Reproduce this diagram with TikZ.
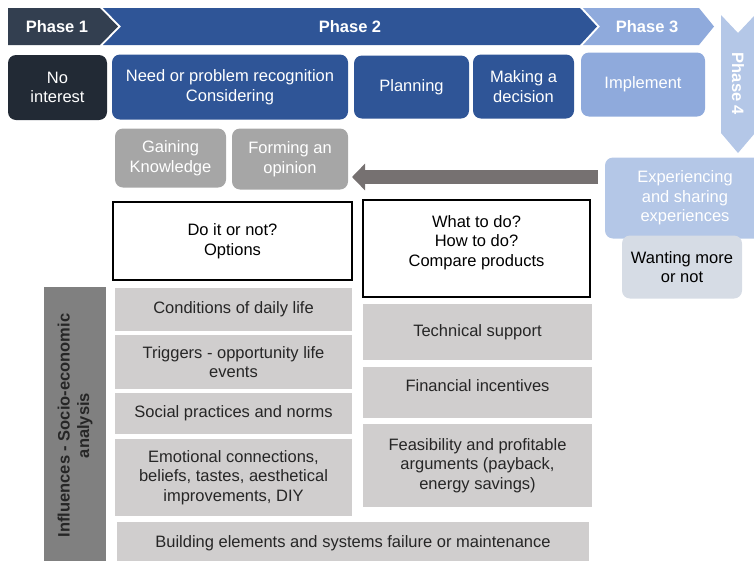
\documentclass[tikz,border=0pt]{standalone}
\usepackage{fontspec}
\setmainfont{Liberation Sans}
\usepackage{tikz}
\usetikzlibrary{arrows.meta,shapes}
\definecolor{phaseone}{HTML}{333F50}
\definecolor{nointcol}{HTML}{222A35}
\definecolor{phasetwo}{HTML}{2F5597}
\definecolor{phasethree}{HTML}{8FAADC}
\definecolor{phasefour}{HTML}{B4C7E7}
\definecolor{wantcol}{HTML}{D6DCE5}
\definecolor{knowcol}{HTML}{A6A6A6}
\definecolor{arrowcol}{HTML}{767171}
\definecolor{inflcol}{HTML}{808080}
\definecolor{lightcol}{HTML}{D0CECE}
\tikzstyle{txt}=[font=\fontsize{16.5}{19.5}\selectfont, align=center, inner sep=2pt]
\tikzstyle{phase label}=[txt, font=\fontsize{16.5}{19.5}\selectfont\bfseries, text=white]
\tikzstyle{stage}=[txt, rounded corners=8pt, text=white]
\tikzstyle{dark stage}=[stage, fill=nointcol]
\tikzstyle{blue stage}=[stage, fill=phasetwo]
\tikzstyle{pale stage}=[stage, fill=phasethree]
\tikzstyle{grey stage}=[stage, fill=knowcol]
\tikzstyle{question}=[txt, draw=black, line width=1.3pt, fill=white, text=black]
\tikzstyle{light box}=[txt, fill=lightcol, text=black!85]
\tikzstyle{big arrow}=[draw=arrowcol, line width=14pt, -{Triangle[length=13pt,width=26pt]}]

\begin{document}
\begin{tikzpicture}[x=1pt,y=-1pt]
    \clip (0,0) rectangle (754,560);
    % phase banner
    \fill[phaseone] (8,8) -- (100,8) -- (118,26.5) -- (100,45) -- (8,45) -- cycle;
    \fill[phasetwo] (103,8) -- (580,8) -- (597,26.5) -- (580,45) -- (103,45) -- (121,26.5) -- cycle;
    \fill[phasethree] (583,8) -- (699,8) -- (714,26.5) -- (699,45) -- (583,45) -- (600,26.5) -- cycle;
    \fill[phasefour] (721,15) -- (738,33) -- (755,15) -- (755,133) -- (738,153) -- (721,133) -- cycle;
    \foreach \pos/\name/\label in {{(57,26.5)/ph1/Phase 1}, {(350,26.5)/ph2/Phase 2}, {(647,26.5)/ph3/Phase 3}}
        \node[phase label] (\name) at \pos {\label};
    \node[phase label, rotate=-90] (ph4) at (738,84) {Phase 4};
    % stages
    \node[dark stage, minimum width=99pt, minimum height=65pt] (nointerest) at (57.5,87.5) {No\\interest};
    \node[blue stage, minimum width=236pt, minimum height=65pt] (need) at (230,87) {Need or problem recognition\\Considering};
    \node[blue stage, minimum width=115pt, minimum height=63pt] (planning) at (411.5,87) {Planning};
    \node[blue stage, minimum width=101pt, minimum height=64pt] (decision) at (523.5,86.5) {Making a\\decision};
    \node[pale stage, minimum width=124pt, minimum height=64pt] (implement) at (643,84.5) {Implement};
    \node[grey stage, minimum width=111pt, minimum height=59pt] (knowledge) at (170.5,158) {Gaining\\Knowledge};
    \node[grey stage, minimum width=116pt, minimum height=61pt] (opinion) at (290,159) {Forming an\\opinion};
    \node[stage, fill=phasefour, minimum width=160pt, minimum height=81pt] (experience) at (685,198) {Experiencing\\and sharing\\experiences};
    \node[stage, fill=wantcol, text=black, minimum width=120pt, minimum height=63pt] (wanting) at (682,267) {Wanting more\\or not};
    % feedback arrow
    \coordinate (fbstart) at (598,177);
    \coordinate (fbend) at (352,177);
    \path[big arrow] (fbstart) -- (fbend);
    % questions
    \node[question, minimum width=239pt, minimum height=78pt] (doit) at (232.5,241) {Do it or not?\\Options};
    \node[question, minimum width=227pt, minimum height=97pt, text depth=15.5pt] (whattodo) at (476.5,248.5) {What to do?\\How to do?\\Compare products};
    % influences
    \node[txt, fill=inflcol, text=black!85, font=\fontsize{16.5}{19.5}\selectfont\bfseries, rotate=90, minimum width=277pt, minimum height=62pt] (influences) at (75,425.5) {Influences - Socio-economic\\analysis};
    \foreach \y/\h/\name/\label in {309.5/43pt/conditions/Conditions of daily life, 362/54pt/triggers/Triggers - opportunity life\\events, 413.5/41pt/practices/Social practices and norms, {477.5/77pt/emotional/Emotional connections,\\beliefs, tastes, aesthetical\\improvements, DIY}}
        \node[light box, minimum width=237pt, minimum height=\h] (\name) at (233.5,\y) {\label};
    \foreach \y/\h/\name/\label in {332/56pt/technical/Technical support, {465.5/83pt/feasibility/Feasibility and profitable\\arguments (payback,\\energy savings)}}
        \node[light box, minimum width=229pt, minimum height=\h] (\name) at (477.5,\y) {\label};
    \node[light box, minimum width=229pt, minimum height=51pt, text depth=13pt] (financial) at (477.5,392.5) {Financial incentives};
    \node[light box, minimum width=472pt, minimum height=42pt] (building) at (353,543) {Building elements and systems failure or maintenance};
\end{tikzpicture}
\end{document}
